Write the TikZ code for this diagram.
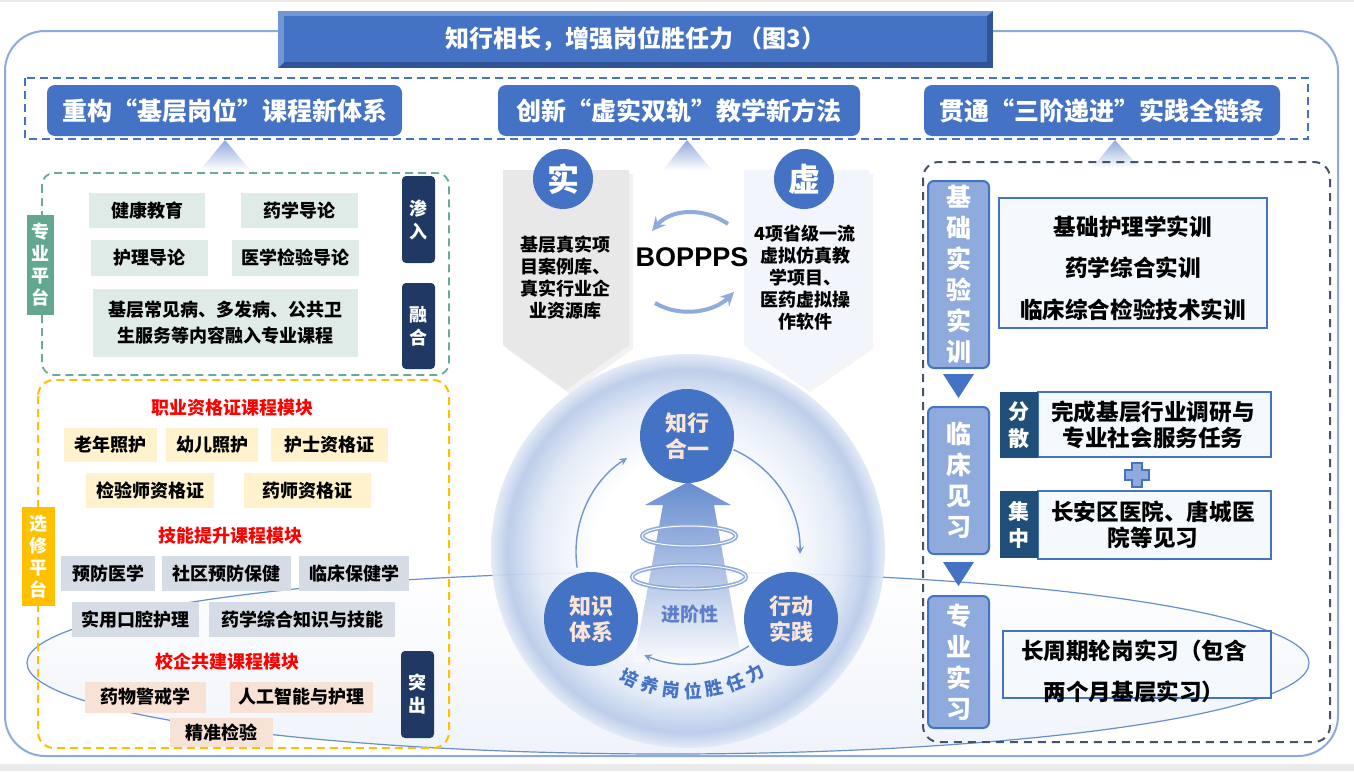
\documentclass[tikz,border=0pt]{standalone}
\usepackage{fontspec}
\setmainfont{Noto Sans CJK SC}
\newfontfamily\latinbold{Liberation Sans}
\usetikzlibrary{shapes.geometric}
\definecolor{mainblue}{HTML}{4472C4}
\definecolor{navy}{HTML}{203864}
\definecolor{deepblue}{HTML}{1F4E79}
\definecolor{tealtag}{HTML}{62A78F}
\definecolor{tealline}{HTML}{6AAA96}
\definecolor{gfill}{HTML}{DEEBE7}
\definecolor{gold}{HTML}{FFC000}
\definecolor{yfill}{HTML}{FFF2CC}
\definecolor{sfill}{HTML}{D6DCE5}
\definecolor{pfill}{HTML}{F8E2D6}
\definecolor{tagblue}{HTML}{8FAADC}
\definecolor{rfill}{HTML}{F3F9FD}
\definecolor{slate}{HTML}{44546A}
\definecolor{outerline}{HTML}{8EAADB}
\definecolor{circtxt}{HTML}{FBE5D6}
\definecolor{stagetxt}{HTML}{5B7FC8}
\definecolor{spherein}{HTML}{E2EAF7}
\definecolor{sphereout}{HTML}{B9CAE9}
\definecolor{tblight}{HTML}{7396D6}
\definecolor{tbdark}{HTML}{2F5597}
\definecolor{redtitle}{HTML}{FF0000}
\pgfdeclareradialshading{sphere}{\pgfpoint{0bp}{0bp}}{color(0bp)=(white); color(12bp)=(white); color(19bp)=(spherein); color(23bp)=(sphereout); color(25bp)=(spherein); color(50bp)=(spherein)}
\begin{document}
\begin{tikzpicture}[x=0.5pt,y=-0.5pt,
  hdbox/.style={fill=mainblue, rounded corners=4pt, text=white, inner sep=0pt, font=\fontsize{12.5}{15}\selectfont\bfseries},
  chev/.style={top color=tagblue, bottom color=white},
  gbox/.style={fill=gfill, inner sep=0pt, font=\fontsize{9}{11}\selectfont\bfseries, align=center},
  ybox/.style={gbox, fill=yfill},
  sbox/.style={gbox, fill=sfill},
  pbox/.style={gbox, fill=pfill},
  modtitle/.style={text=redtitle, font=\fontsize{9}{11}\selectfont\bfseries},
  navytag/.style={fill=navy, rounded corners=2pt, text=white, inner sep=0pt, align=center, minimum width=16.5pt, font=\fontsize{9}{11.5}\selectfont\bfseries},
  sidetag/.style={text=white, inner sep=0pt, align=center, font=\fontsize{9}{11}\selectfont\bfseries},
  panel/.style={align=center, font=\fontsize{9}{11}\selectfont\bfseries},
  badge/.style={circle, fill=mainblue, minimum size=30pt, inner sep=0pt, text=white, font=\fontsize{16}{18}\selectfont\bfseries},
  hub/.style={circle, fill=mainblue, minimum size=47pt, inner sep=0pt, text=circtxt, align=center, font=\fontsize{11}{13}\selectfont\bfseries},
  cyc/.style={mainblue!75, line width=.7pt, ->, >=stealth},
  bop/.style={tagblue, line width=2pt, ->, >=stealth},
  ring/.style={draw=mainblue!60, line width=.8pt, double=white, double distance=.5pt},
  stagetag/.style={fill=tagblue, draw=mainblue, line width=1pt, rounded corners=3pt, text=white, inner sep=0pt, minimum width=30.5pt, align=center, font=\fontsize{12.5}{15.5}\selectfont\bfseries},
  rbox/.style={fill=rfill, draw=mainblue, line width=1pt, inner sep=0pt},
  rtxt/.style={align=center, inner sep=0pt, font=\fontsize{11.3}{13}\selectfont\bfseries},
  dtag/.style={fill=deepblue, text=white, inner sep=0pt, minimum width=19pt, align=center, font=\fontsize{10.5}{13.5}\selectfont\bfseries}]
\useasboundingbox (0,0) rectangle (1354,771);
\fill[white] (0,0) rectangle (1354,771);
\fill[black!8] (0,0) rectangle (1354,2);
\fill[black!8] (0,764) rectangle (1354,771);

% faint ellipse behind everything
\shade[top color=white, bottom color=mainblue!10, opacity=.8] (668,663) ellipse [x radius=641, y radius=91];
\draw[mainblue!80, line width=.6pt] (668,663) ellipse [x radius=641, y radius=91];

% outer frame and title
\draw[outerline, line width=1pt, rounded corners=20pt] (5,31) rectangle (1338,756);
\fill[tbdark] (278,11) rectangle (993,68);
\fill[tblight] (278,11) -- (993,11) -- (987,16) -- (284,16) -- (284,62) -- (278,68) -- cycle;
\node[fill=mainblue, minimum width=351.5pt, minimum height=23pt, inner sep=0pt, text=white, font=\fontsize{12}{14}\selectfont\bfseries] (title) at (635.5,39) {知行相长，增强岗位胜任力 （图3）};

% three headings
\draw[mainblue, line width=1pt, dash pattern=on 4pt off 2.5pt] (25,78) rectangle (1308,139);
\node[hdbox, minimum width=177.5pt, minimum height=25.5pt] (hdA) at (224.5,110.5) {重构“基层岗位”课程新体系};
\node[hdbox, minimum width=181pt, minimum height=25.5pt] (hdB) at (679,110.5) {创新“虚实双轨”教学新方法};
\node[hdbox, minimum width=178pt, minimum height=25.5pt] (hdC) at (1102,110.5) {贯通“三阶递进”实践全链条};
\shade[chev] (225,140) -- (250,170) -- (200,170) -- cycle;
\shade[chev] (687,140) -- (712,170) -- (663,170) -- cycle;
\shade[chev] (1115,140) -- (1140,168) -- (1092,168) -- cycle;

% left: professional platform
\draw[tealline, line width=.9pt, dash pattern=on 4pt off 2.5pt, rounded corners=6pt] (42,173) rectangle (449,375);
\node[sidetag, fill=tealtag, minimum width=13.5pt, minimum height=50pt] (zypt) at (40.5,265) {专\\业\\平\\台};
\node[gbox, minimum width=58pt, minimum height=17.5pt] (jkjy) at (147,210.5) {健康教育};
\node[gbox, minimum width=58.5pt, minimum height=17.5pt] (yxdl) at (299.5,210.5) {药学导论};
\node[gbox, minimum width=58.5pt, minimum height=18pt] (hldl) at (149.5,258) {护理导论};
\node[gbox, minimum width=63.5pt, minimum height=18pt] (yxjy) at (295.5,258) {医学检验导论};
\node[gbox, minimum width=132.5pt, minimum height=34pt, font=\fontsize{9}{13}\selectfont\bfseries] (jcjb) at (225.5,323) {基层常见病、多发病、公共卫\\生服务等内容融入专业课程};
\node[navytag, minimum height=43.5pt] (shenru) at (418.5,219.5) {渗\\入};
\node[navytag, minimum height=43pt] (rongh) at (418.5,326) {融\\合};

% left: elective platform
\draw[gold, line width=1pt, dash pattern=on 4pt off 2.5pt, rounded corners=8pt] (38,380) rectangle (449,748);
\node[sidetag, fill=gold, minimum width=16.5pt, minimum height=49.5pt] (xxpt) at (38.5,556.5) {选\\修\\平\\台};
\node[modtitle] (mkA) at (232,408) {职业资格证课程模块};
\node[ybox, minimum width=46.5pt, minimum height=17pt] (lnzh) at (110.5,445) {老年照护};
\node[ybox, minimum width=46pt, minimum height=17pt] (yezh) at (212,445) {幼儿照护};
\node[ybox, minimum width=58.5pt, minimum height=17pt] (hszg) at (329.5,445) {护士资格证};
\node[ybox, minimum width=64pt, minimum height=17.5pt] (jysz) at (150,490.5) {检验师资格证};
\node[ybox, minimum width=63.5pt, minimum height=17.5pt] (yszg) at (307.5,490.5) {药师资格证};
\node[modtitle] (mkB) at (230,536) {技能提升课程模块};
\node[sbox, minimum width=47pt, minimum height=17.5pt] (yfyx) at (108,573.5) {预防医学};
\node[sbox, minimum width=64.5pt, minimum height=17.5pt] (sqyf) at (226.5,573.5) {社区预防保健};
\node[sbox, minimum width=55pt, minimum height=17.5pt] (lcbj) at (354,573.5) {临床保健学};
\node[sbox, minimum width=63.5pt, minimum height=17.5pt] (sykq) at (135.5,619.5) {实用口腔护理};
\node[sbox, minimum width=93pt, minimum height=17.5pt] (yxzh) at (302,619.5) {药学综合知识与技能};
\node[modtitle] (mkC) at (227,662) {校企共建课程模块};
\node[pbox, minimum width=60.5pt, minimum height=15.5pt] (ywjj) at (145.5,697) {药物警戒学};
\node[pbox, minimum width=71.5pt, minimum height=15.5pt] (rgzn) at (301.5,697) {人工智能与护理};
\node[pbox, minimum width=51.5pt, minimum height=14.5pt] (jzjy) at (221.5,732.5) {精准检验};
\node[navytag, minimum height=43.5pt] (tuchu) at (417.5,694.5) {突\\出};

% centre: real and virtual tracks
\fill[black!5] (507,174) -- (633,174) -- (633,349) -- (570,394) -- (507,349) -- cycle;
\fill[black!9] (503,170) -- (629,170) -- (629,345) -- (566,390) -- (503,345) -- cycle;
\fill[black!4] (748,174) -- (873,174) -- (873,349) -- (810,392) -- (748,349) -- cycle;
\fill[mainblue!7] (744,170) -- (869,170) -- (869,345) -- (806.5,388) -- (744,345) -- cycle;
\node[badge] (shi) at (563,179) {实};
\node[badge] (xu) at (804,179) {虚};
\node[panel] (shitxt) at (565,278) {基层真实项\\目案例库、\\真实行业企\\业资源库};
\node[panel] (xutxt) at (805,278) {4项省级一流\\虚拟仿真教\\学项目、\\医药虚拟操\\作软件};
\node[font=\latinbold\fontsize{13.5}{15}\selectfont\bfseries] (bopps) at (692,257) {BOPPPS};
\draw[bop] (728,224) .. controls (702,206) and (670,210) .. (652,231);
\draw[bop] (655,303) .. controls (680,318) and (714,312) .. (734,292);

% centre: sphere
\shade[shading=sphere, opacity=.92] (688,551) circle [radius=197];
\coordinate (ctr) at (688,552);
\shade[top color=mainblue!90, bottom color=mainblue!3, opacity=.9] (688,482) -- (731,505) -- (714,505) -- (742,662) -- (634,662) -- (663,505) -- (645,505) -- cycle;
\draw[ring] (689,536) ellipse [x radius=47, y radius=10];
\draw[ring] (689,577) ellipse [x radius=57, y radius=12];
\draw[cyc] (ctr) ++(172:112) arc [start angle=172, end angle=237, radius=112];
\draw[cyc] (ctr) ++(294:112) arc [start angle=294, end angle=361, radius=112];
\draw[cyc] (ctr) ++(57:112) arc [start angle=57, end angle=113, radius=112];
\node[hub] (zxhy) at (687,436) {知行\\合一};
\node[hub] (zstx) at (591,619) {知识\\体系};
\node[hub] (xdsj) at (791,619) {行动\\实践};
\node[text=stagetxt, font=\fontsize{9.5}{11}\selectfont\bfseries] (jjx) at (690,614) {进阶性};
\foreach \ch [count=\i] in {培,养,岗,位,胜,任,力}{
  \pgfmathsetmacro\ang{115-(\i-1)*9}
  \pgfmathsetmacro\rot{90-\ang}
  \node[text=mainblue, inner sep=0pt, font=\fontsize{9}{11}\selectfont\bfseries, rotate=\rot] (py\i) at ([shift={(\ang:139)}]ctr) {\ch};
}

% right: three-stage chain
\draw[slate, line width=1pt, dash pattern=on 4pt off 3pt, rounded corners=8pt] (923,162) rectangle (1330,742);
\node[stagetag, minimum height=93.5pt] (jcsy) at (958.5,274.5) {基\\础\\实\\验\\实\\训};
\node[stagetag, minimum height=73.5pt] (lcjx) at (958.5,480.5) {临\\床\\见\\习};
\node[stagetag, minimum height=66pt] (zysx) at (958.5,662) {专\\业\\实\\习};
\fill[mainblue] (943,374) -- (974,374) -- (958.5,398) -- cycle;
\fill[mainblue] (943,562) -- (974,562) -- (958.5,586) -- cycle;
\node[rbox, minimum width=134pt, minimum height=65pt] (jcbox) at (1133,263) {};
\node[rtxt, font=\fontsize{11.3}{20.75}\selectfont\bfseries] (jctxt) at (1133,268) {基础护理学实训\\药学综合实训\\临床综合检验技术实训};
\node[rbox, minimum width=116.5pt, minimum height=32.5pt] (fsbox) at (1154.5,424.5) {};
\node[rtxt] (fstxt) at (1153,425) {完成基层行业调研与\\专业社会服务任务};
\node[dtag, minimum height=33pt] (fs) at (1019,425) {分\\散};
\filldraw[fill=tagblue, draw=mainblue, line width=.6pt] (1132,463) -- (1142,463) -- (1142,470) -- (1149,470) -- (1149,480) -- (1142,480) -- (1142,487) -- (1132,487) -- (1132,480) -- (1125,480) -- (1125,470) -- (1132,470) -- cycle;
\node[rbox, minimum width=116.5pt, minimum height=34pt] (jzbox) at (1154.5,525) {};
\node[rtxt] (jztxt) at (1153,525) {长安区医院、唐城医\\院等见习};
\node[dtag, minimum height=33.5pt] (jz) at (1019,524.5) {集\\中};
\node[rbox, minimum width=134pt, minimum height=33.5pt] (czbox) at (1137,664.5) {};
\node[rtxt, font=\fontsize{11.3}{20.5}\selectfont\bfseries] (cztxt) at (1134,671) {长周期轮岗实习（包含\\两个月基层实习）};
\end{tikzpicture}
\end{document}
